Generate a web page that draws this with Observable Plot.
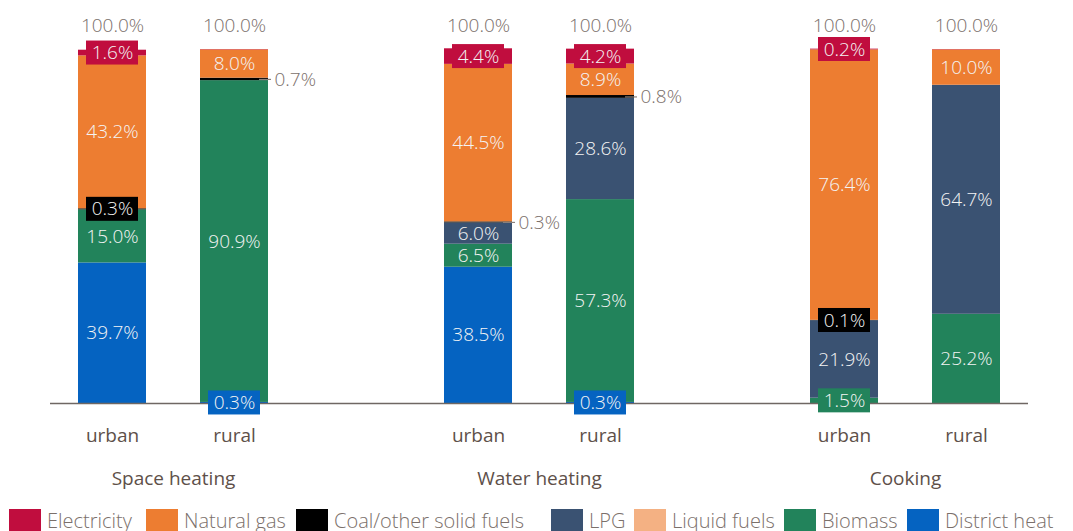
<!DOCTYPE html>
<html><head><meta charset="utf-8">
<script src="https://cdn.jsdelivr.net/npm/d3@7"></script>
<script src="https://cdn.jsdelivr.net/npm/@observablehq/plot@0.6"></script>
<style>
body{margin:0;background:#fff;font-family:"Open Sans",sans-serif;}
#legend{display:flex;align-items:center;height:24px;padding-left:9px;white-space:nowrap;}
.item{display:flex;align-items:center;flex:none;font-size:20px;font-weight:300;color:#7b706b;line-height:24px}
.sw{width:32px;height:24px;margin-right:6px;flex:none}
</style></head><body><div id="chart"></div><div id="legend"></div>
<script>
// ---- data ----
const groups = ["Space heating", "Water heating", "Cooking"];
const areas = ["urban", "rural"];
const legendOrder = ["Electricity", "Natural gas", "Coal/other solid fuels", "LPG", "Liquid fuels", "Biomass", "District heat"];
const colors = ["#c00d3e", "#ed7d31", "#000000", "#3a5272", "#f4b183", "#22835b", "#0563c1"];
const stackOrder = ["District heat", "Biomass", "Liquid fuels", "LPG", "Coal/other solid fuels", "Natural gas", "Electricity"]; // bottom -> top
// values per bar: SH urban, SH rural, WH urban, WH rural, Cooking urban, Cooking rural
const electricity = [1.6, 0.1, 4.4, 4.2, 0.2, 0.1];
const naturalGas  = [43.2, 8.0, 44.5, 8.9, 76.4, 10.0];
const coal        = [0.3, 0.7, 0.3, 0.8, 0.1, 0];
const lpg         = [0, 0, 6.0, 28.6, 21.9, 64.7];
const liquidFuels = [0, 0, 0, 0, 0, 0];
const biomass     = [15.0, 90.9, 6.5, 57.3, 1.5, 25.2];
const districtHeat= [39.7, 0.3, 38.5, 0.3, 0, 0];
const totals      = [100.0, 100.0, 100.0, 100.0, 100.0, 100.0];
// label treatment (bar index, fuel)
const boxedLabels = [[0,"Electricity"],[0,"Coal/other solid fuels"],[1,"District heat"],[2,"Electricity"],[3,"Electricity"],[3,"District heat"],[4,"Electricity"],[4,"Coal/other solid fuels"],[4,"Biomass"]];
const outsideLabels = [[1,"Coal/other solid fuels"],[2,"Coal/other solid fuels"],[3,"Coal/other solid fuels"]];
const hiddenLabels = [[1,"Electricity"],[5,"Electricity"]];
// legend item widths (layout only)
const legendWidths = [137, 150, 255, 83, 150, 123, 160];

// ---- build table ----
const series = {"Electricity": electricity, "Natural gas": naturalGas, "Coal/other solid fuels": coal, "LPG": lpg, "Liquid fuels": liquidFuels, "Biomass": biomass, "District heat": districtHeat};
const bars = [];
groups.forEach(g => areas.forEach(a => bars.push({group: g, area: a, key: g + " " + a})));
const xDomain = [bars[0].key, bars[1].key, "gap1", bars[2].key, bars[3].key, "gap2", bars[4].key, bars[5].key];
const has = (list, i, f) => list.some(([b, ff]) => b === i && ff === f);
const rows = [];
bars.forEach((b, i) => {
  let base = 0;
  stackOrder.forEach(f => {
    const v = series[f][i];
    if (v > 0) {
      const mode = has(hiddenLabels, i, f) ? "hidden" : has(boxedLabels, i, f) ? "box" : has(outsideLabels, i, f) ? "out" : "plain";
      rows.push({key: b.key, fuel: f, value: v, y0: base, y1: base + v, mid: base + v / 2, mode, label: v.toFixed(1) + "%"});
    }
    base += v;
  });
});
const totalRows = bars.map((b, i) => ({key: b.key, total: totals[i], label: totals[i].toFixed(1) + "%"}));
const groupRows = groups.map(g => ({key: g + " urban", group: g}));

const grey = "#7b706b";
const dark = "#5e5049";
const font = "Open Sans";
const chart = Plot.plot({
  width: 1073, height: 509,
  marginTop: 49, marginBottom: 106, marginLeft: 50, marginRight: 45,
  style: {fontFamily: font, background: "#fff"},
  x: {type: "band", domain: xDomain, paddingInner: 0.4426, paddingOuter: 0.2295, round: false, axis: null},
  y: {domain: [0, 100], axis: null},
  color: {domain: legendOrder, range: colors},
  marks: [
    Plot.barY(rows, {x: "key", y1: "y0", y2: "y1", fill: "fuel"}),
    Plot.ruleY([0], {stroke: "#6f6763", strokeWidth: 1.5}),
    Plot.barY(rows.filter(d => d.mode === "box"), {x: "key", y1: "mid", y2: "mid", fill: "fuel", insetLeft: 8, insetRight: 8, insetTop: -12, insetBottom: -12}),
    Plot.text(rows.filter(d => d.mode === "box" || d.mode === "plain"), {x: "key", y: "mid", text: "label", fill: "#f4f4f4", fontSize: 19, fontWeight: 300, fontFamily: font}),
    Plot.tickY(rows.filter(d => d.mode === "out"), {x: "key", y: "mid", stroke: "#8a807b", strokeWidth: 1.2, insetLeft: 59, insetRight: -3}),
    Plot.text(rows.filter(d => d.mode === "out"), {x: "key", y: "mid", text: "label", textAnchor: "start", dx: 40, fill: grey, fontSize: 19, fontWeight: 300, fontFamily: font}),
    Plot.text(totalRows, {x: "key", y: "total", text: "label", dy: -24, fill: grey, fontSize: 19, fontWeight: 300, fontFamily: font}),
    Plot.text(bars, {x: "key", text: "area", frameAnchor: "bottom", dy: 38, fill: dark, fontSize: 19, fontWeight: 400, fontFamily: font}),
    Plot.text(groupRows, {x: "key", text: "group", frameAnchor: "bottom", dy: 81, dx: 61, fill: dark, fontSize: 19, fontWeight: 400, fontFamily: font})
  ]
});
document.getElementById("chart").appendChild(chart);

const legend = document.getElementById("legend");
legendOrder.forEach((f, i) => {
  const it = document.createElement("div");
  it.className = "item";
  it.style.width = legendWidths[i] + "px";
  const sw = document.createElement("span");
  sw.className = "sw";
  sw.style.background = colors[i];
  const t = document.createElement("span");
  t.textContent = f;
  it.appendChild(sw); it.appendChild(t);
  legend.appendChild(it);
});
</script>
</body></html>
